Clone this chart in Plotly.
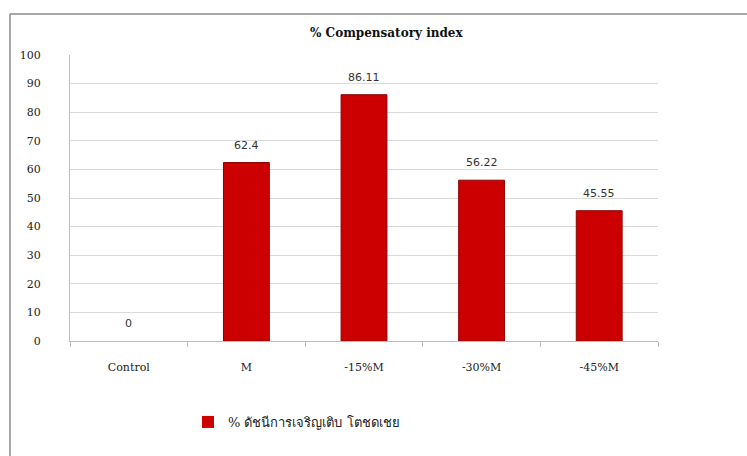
import plotly.graph_objects as go

categories = ["Control", "M", "-15%M", "-30%M", "-45%M"]
values = [0, 62.4, 86.11, 56.22, 45.55]
value_labels = ["0", "62.4", "86.11", "56.22", "45.55"]
y_ticks = [0, 10, 20, 30, 40, 50, 60, 70, 80, 90, 100]
series_name = "% ดัชนีการเจริญเติบ โตชดเชย"
chart_title = "% Compensatory index"

serif = "DejaVu Serif, Liberation Serif, serif"
sans = "DejaVu Sans, Verdana, sans-serif"

# plot-area geometry in pixels, used to place frame/title in paper coords
L, R, T, B = 70, 658, 55, 341
W, H = R - L, B - T


def px_x(p):
    return (p - L) / W


def px_y(p):
    return (B - p) / H


fig = go.Figure()
fig.add_trace(go.Bar(
    x=categories,
    y=values,
    name=series_name,
    marker=dict(
        color="#cc0000",
        line=dict(color="#8e0000", width=[0 if v == 0 else 1 for v in values]),
    ),
))

# value labels above each bar
label_annotations = [
    dict(x=c, y=v, text=t, xref="x", yref="y",
         xanchor="center", yanchor="bottom", yshift=9, showarrow=False,
         font=dict(family=sans, size=11, color="#333333"))
    for c, v, t in zip(categories, values, value_labels)
]

fig.update_layout(
    width=747,
    height=456,
    margin=dict(l=L, r=747 - R, t=T, b=456 - B),
    paper_bgcolor="white",
    plot_bgcolor="white",
    bargap=0.61,
    showlegend=True,
    legend=dict(
        orientation="h",
        x=px_x(188), y=px_y(422), xanchor="left", yanchor="middle",
        font=dict(family=serif, size=13, color="#222222"),
        bgcolor="rgba(0,0,0,0)",
    ),
    annotations=label_annotations + [dict(
        text="<b>" + chart_title + "</b>",
        xref="paper", yref="paper",
        x=px_x(386), y=px_y(33),
        xanchor="center", yanchor="middle",
        showarrow=False,
        font=dict(family=serif, size=12, color="#111111"),
    )],
    shapes=[
        # outer chart frame: left and top edges
        dict(type="line", xref="paper", yref="paper",
             x0=px_x(10), x1=px_x(10), y0=px_y(14), y1=px_y(460),
             line=dict(color="#8a8a8a", width=1.5)),
        dict(type="line", xref="paper", yref="paper",
             x0=px_x(10), x1=px_x(760), y0=px_y(14), y1=px_y(14),
             line=dict(color="#8a8a8a", width=1.5)),
    ],
)

fig.update_xaxes(
    type="category",
    showline=True, linecolor="#bdbdbd", linewidth=1,
    ticks="outside", tickson="boundaries", ticklen=5, tickcolor="#bdbdbd",
    ticklabelstandoff=16,
    tickfont=dict(family=serif, size=11, color="#222222"),
    showgrid=False,
)
fig.update_yaxes(
    range=[0, 100],
    tickvals=y_ticks,
    showline=True, linecolor="#bdbdbd", linewidth=1,
    showgrid=True, gridcolor="#d9d9d9", gridwidth=1,
    ticks="", ticklabelstandoff=26,
    tickfont=dict(family=serif, size=11, color="#222222"),
    zeroline=False,
)

fig.write_html("out.html")
